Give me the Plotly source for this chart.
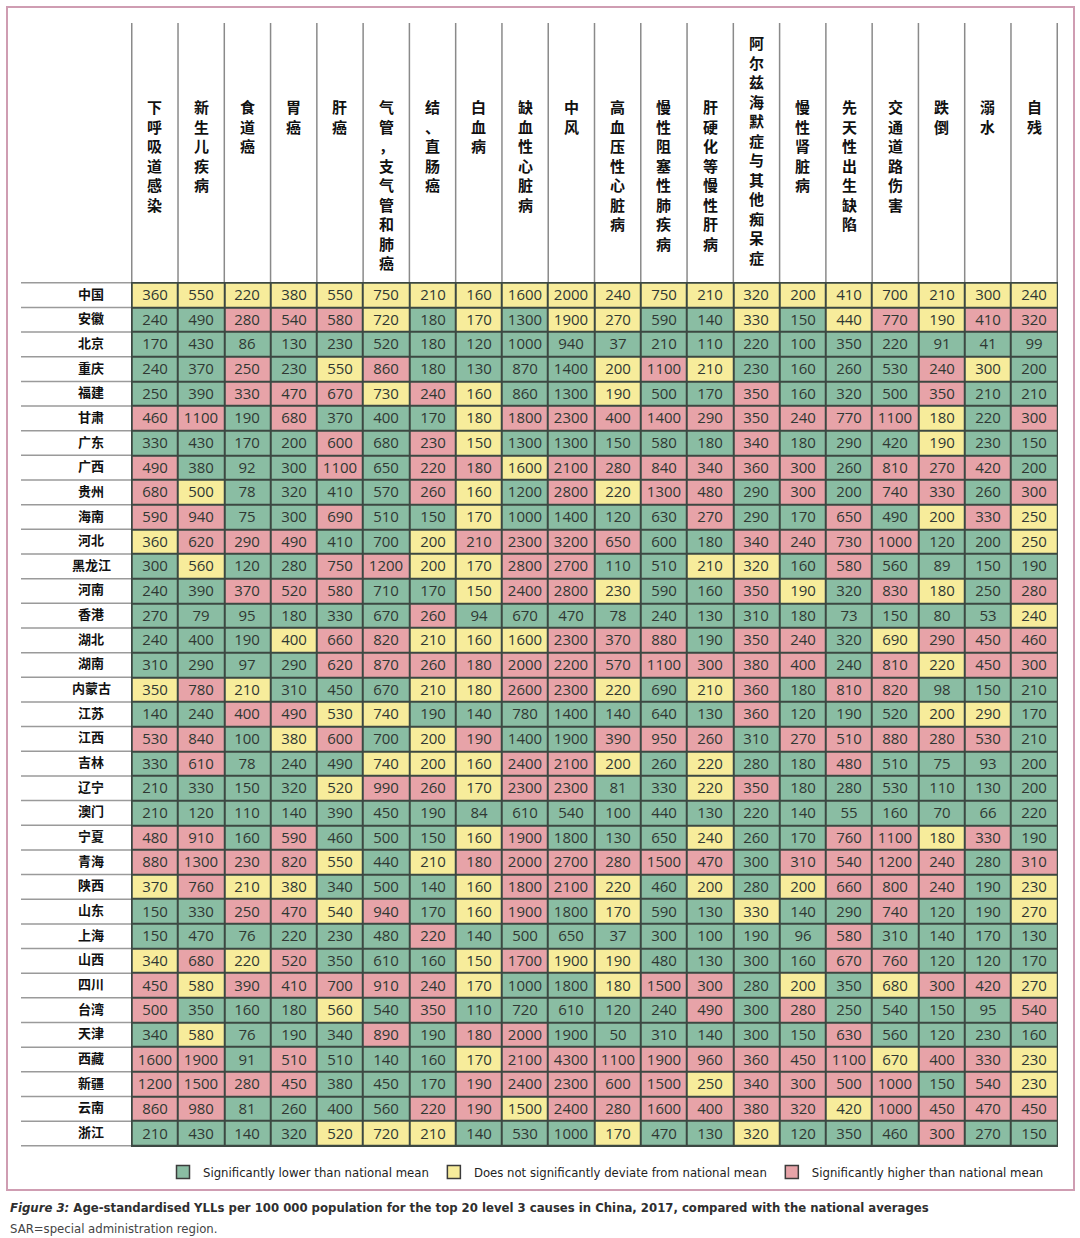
import plotly.graph_objects as go

# 20 causes (column headers)
causes = ["下呼吸道感染", "新生儿疾病", "食道癌", "胃癌", "肝癌", "气管，支气管和肺癌",
          "结、直肠癌", "白血病", "缺血性心脏病", "中风", "高血压性心脏病",
          "慢性阻塞性肺疾病", "肝硬化等慢性肝病", "阿尔兹海默症与其他痴呆症",
          "慢性肾脏病", "先天性出生缺陷", "交通道路伤害", "跌倒", "溺水", "自残"]

regions = ["中国", "安徽", "北京", "重庆", "福建", "甘肃", "广东", "广西", "贵州", "海南",
           "河北", "黑龙江", "河南", "香港", "湖北", "湖南", "内蒙古", "江苏", "江西", "吉林",
           "辽宁", "澳门", "宁夏", "青海", "陕西", "山东", "上海", "山西", "四川", "台湾",
           "天津", "西藏", "新疆", "云南", "浙江"]

# age-standardised YLLs per 100 000, one row per region
yll = [
    [360, 550, 220, 380, 550, 750, 210, 160, 1600, 2000, 240, 750, 210, 320, 200, 410, 700, 210, 300, 240],
    [240, 490, 280, 540, 580, 720, 180, 170, 1300, 1900, 270, 590, 140, 330, 150, 440, 770, 190, 410, 320],
    [170, 430, 86, 130, 230, 520, 180, 120, 1000, 940, 37, 210, 110, 220, 100, 350, 220, 91, 41, 99],
    [240, 370, 250, 230, 550, 860, 180, 130, 870, 1400, 200, 1100, 210, 230, 160, 260, 530, 240, 300, 200],
    [250, 390, 330, 470, 670, 730, 240, 160, 860, 1300, 190, 500, 170, 350, 160, 320, 500, 350, 210, 210],
    [460, 1100, 190, 680, 370, 400, 170, 180, 1800, 2300, 400, 1400, 290, 350, 240, 770, 1100, 180, 220, 300],
    [330, 430, 170, 200, 600, 680, 230, 150, 1300, 1300, 150, 580, 180, 340, 180, 290, 420, 190, 230, 150],
    [490, 380, 92, 300, 1100, 650, 220, 180, 1600, 2100, 280, 840, 340, 360, 300, 260, 810, 270, 420, 200],
    [680, 500, 78, 320, 410, 570, 260, 160, 1200, 2800, 220, 1300, 480, 290, 300, 200, 740, 330, 260, 300],
    [590, 940, 75, 300, 690, 510, 150, 170, 1000, 1400, 120, 630, 270, 290, 170, 650, 490, 200, 330, 250],
    [360, 620, 290, 490, 410, 700, 200, 210, 2300, 3200, 650, 600, 180, 340, 240, 730, 1000, 120, 200, 250],
    [300, 560, 120, 280, 750, 1200, 200, 170, 2800, 2700, 110, 510, 210, 320, 160, 580, 560, 89, 150, 190],
    [240, 390, 370, 520, 580, 710, 170, 150, 2400, 2800, 230, 590, 160, 350, 190, 320, 830, 180, 250, 280],
    [270, 79, 95, 180, 330, 670, 260, 94, 670, 470, 78, 240, 130, 310, 180, 73, 150, 80, 53, 240],
    [240, 400, 190, 400, 660, 820, 210, 160, 1600, 2300, 370, 880, 190, 350, 240, 320, 690, 290, 450, 460],
    [310, 290, 97, 290, 620, 870, 260, 180, 2000, 2200, 570, 1100, 300, 380, 400, 240, 810, 220, 450, 300],
    [350, 780, 210, 310, 450, 670, 210, 180, 2600, 2300, 220, 690, 210, 360, 180, 810, 820, 98, 150, 210],
    [140, 240, 400, 490, 530, 740, 190, 140, 780, 1400, 140, 640, 130, 360, 120, 190, 520, 200, 290, 170],
    [530, 840, 100, 380, 600, 700, 200, 190, 1400, 1900, 390, 950, 260, 310, 270, 510, 880, 280, 530, 210],
    [330, 610, 78, 240, 490, 740, 200, 160, 2400, 2100, 200, 260, 220, 280, 180, 480, 510, 75, 93, 200],
    [210, 330, 150, 320, 520, 990, 260, 170, 2300, 2300, 81, 330, 220, 350, 180, 280, 530, 110, 130, 200],
    [210, 120, 110, 140, 390, 450, 190, 84, 610, 540, 100, 440, 130, 220, 140, 55, 160, 70, 66, 220],
    [480, 910, 160, 590, 460, 500, 150, 160, 1900, 1800, 130, 650, 240, 260, 170, 760, 1100, 180, 330, 190],
    [880, 1300, 230, 820, 550, 440, 210, 180, 2000, 2700, 280, 1500, 470, 300, 310, 540, 1200, 240, 280, 310],
    [370, 760, 210, 380, 340, 500, 140, 160, 1800, 2100, 220, 460, 200, 280, 200, 660, 800, 240, 190, 230],
    [150, 330, 250, 470, 540, 940, 170, 160, 1900, 1800, 170, 590, 130, 330, 140, 290, 740, 120, 190, 270],
    [150, 470, 76, 220, 230, 480, 220, 140, 500, 650, 37, 300, 100, 190, 96, 580, 310, 140, 170, 130],
    [340, 680, 220, 520, 350, 610, 160, 150, 1700, 1900, 190, 480, 130, 300, 160, 670, 760, 120, 120, 170],
    [450, 580, 390, 410, 700, 910, 240, 170, 1000, 1800, 180, 1500, 300, 280, 200, 350, 680, 300, 420, 270],
    [500, 350, 160, 180, 560, 540, 350, 110, 720, 610, 120, 240, 490, 300, 280, 250, 540, 150, 95, 540],
    [340, 580, 76, 190, 340, 890, 190, 180, 2000, 1900, 50, 310, 140, 300, 150, 630, 560, 120, 230, 160],
    [1600, 1900, 91, 510, 510, 140, 160, 170, 2100, 4300, 1100, 1900, 960, 360, 450, 1100, 670, 400, 330, 230],
    [1200, 1500, 280, 450, 380, 450, 170, 190, 2400, 2300, 600, 1500, 250, 340, 300, 500, 1000, 150, 540, 230],
    [860, 980, 81, 260, 400, 560, 220, 190, 1500, 2400, 280, 1600, 400, 380, 320, 420, 1000, 450, 470, 450],
    [210, 430, 140, 320, 520, 720, 210, 140, 530, 1000, 170, 470, 130, 320, 120, 350, 460, 300, 270, 150],
]

# G = significantly lower, Y = no significant deviation, R = significantly higher
sig = [
    "YYYYYYYYYYYYYYYYYYYY",
    "GGRRRYGYGYYGGYGYRYRR",
    "GGGGGGGGGGGGGGGGGGGG",
    "GGRGYRGGGGYRYGGGGRYG",
    "GGRRRYRYGGYGGRGGGRGG",
    "RRGRGGGYRRRRRRRRRYGR",
    "GGGGRGRYGGGGGRGGGYGG",
    "RGGGRGRRYRRRRRRGRRRG",
    "RYGGGGRYGRYRRGRGRRGR",
    "RRGGRGGYGGGGRGGRGYRY",
    "YRRRGGYRRRRGGRRRRGGY",
    "GYGGRRYYRRGGYYGRGGGG",
    "GGRRRGGYRRYGGRYGRYGR",
    "GGGGGGRGGGGGGGGGGGGY",
    "GGGYRRYYYRRRGRRGYRRR",
    "GGGGRRRRRRRRRRRGRYRR",
    "YRYGGGYYRRYGYRGRRGGG",
    "GGRRYYGGGGGGGRGGGYYG",
    "RRGYRGYRGGRRRGRRRRRG",
    "GRGGGYYYRRYGYGGRGGGG",
    "GGGGYRRYRRGGYRGGGGGG",
    "GGGGGGGGGGGGGGGGGGGG",
    "RRGRGGGYRGGGYGGRRYRG",
    "RRRRYGYRRRRRRGRRRRGR",
    "YRYYGGGYRRYGYGYRRRGY",
    "GGRRYRGYRGYGGYGGRGGY",
    "GGGGGGRGGGGGGGGRGGGG",
    "YRYRGGGYRYYGGGGRRGGG",
    "RYRRRRRYGGYRRGYGYRRY",
    "RGGGYGRGGGGGRGRGGGGR",
    "GYGGGRGRRGGGGGGRGGGG",
    "RRGRGGGYRRRRRRRRYRRY",
    "RRRRGGGRRRRRYRRRRGRY",
    "RRGGGGRRYRRRRRRYRRRR",
    "GGGGYYYGGGYGGYGGGRGG",
]

legend_labels = ["Significantly lower than national mean",
                 "Does not significantly deviate from national mean",
                 "Significantly higher than national mean"]

GREEN, YELLOW, PINK = "#8abda3", "#f7ec9b", "#e7a3a8"
LEVEL = {"G": 0, "Y": 1, "R": 2}
NARROW = "DejaVu Sans Condensed, Liberation Sans, sans-serif"

W, H = 1080, 1238
ML, MR, MT, MB = 131, 22, 282, 91


def px(x):
    return (x - ML) / (W - ML - MR)


def py(y):
    return (H - MB - y) / (H - MT - MB)


z = [[LEVEL[c] for c in row] for row in sig]
txt = [[str(v) for v in row] for row in yll]

fig = go.Figure()
fig.add_trace(go.Heatmap(
    x=causes, y=regions, z=z, text=txt, texttemplate="%{text}",
    textfont=dict(family="Open Sans", size=15, color="#2f3833"),
    zmin=0, zmax=2, showscale=False, xgap=2, ygap=2, hoverinfo="skip",
    colorscale=[[0, GREEN], [1 / 3, GREEN], [1 / 3, YELLOW], [2 / 3, YELLOW],
                [2 / 3, PINK], [1, PINK]],
))

# legend entries
for lbl, col in zip(legend_labels, [GREEN, YELLOW, PINK]):
    fig.add_trace(go.Scatter(
        x=[None], y=[None], mode="markers", name=lbl,
        marker=dict(symbol="square", size=13, color=col,
                    line=dict(color="#3c3c3c", width=1.5)),
    ))

shapes = []
# vertical lines in header
for i in range(len(causes) + 1):
    shapes.append(dict(type="line", xref="x", yref="paper", x0=i - 0.5, x1=i - 0.5,
                       y0=1, y1=py(23), line=dict(color="#8a8a8a", width=1.5)))
# row separators beside the labels
for j in range(len(regions) + 1):
    shapes.append(dict(type="line", xref="paper", yref="y", x0=px(21), x1=0,
                       y0=j - 0.5, y1=j - 0.5, line=dict(color="#9a9a9a", width=1.5)))
# outer pink frame
shapes.append(dict(type="rect", xref="paper", yref="paper", x0=px(7), x1=px(1074),
                   y0=py(1190), y1=py(7), line=dict(color="#cf9db2", width=2)))

annotations = []
for c in causes:
    long = len(c) > 9
    annotations.append(dict(
        x=c, xref="x", yref="paper", y=py(150) if long else py(94),
        yanchor="middle" if long else "top", xanchor="center",
        text="<br>".join(c), showarrow=False,
        font=dict(family="Noto Sans CJK SC", size=15, color="#111", weight="bold"),
    ))
for r in regions:
    annotations.append(dict(
        x=px(91), xref="paper", y=r, yref="y", text=r, showarrow=False,
        xanchor="center", yshift=2,
        font=dict(family="Noto Sans CJK SC", size=13, color="#111", weight="bold"),
    ))
annotations.append(dict(
    x=px(8), y=py(1207), xref="paper", yref="paper", xanchor="left", yanchor="middle",
    showarrow=False,
    text="<b><i>Figure 3:</i> Age-standardised YLLs per 100 000 population for the top 20 "
         "level 3 causes in China, 2017, compared with the national averages</b>",
    font=dict(family=NARROW, size=13, color="#2f2f2f"),
))
annotations.append(dict(
    x=px(8), y=py(1228), xref="paper", yref="paper", xanchor="left", yanchor="middle",
    showarrow=False, text="SAR=special administration region.",
    font=dict(family=NARROW, size=13, color="#444"),
))

fig.update_layout(
    width=W, height=H,
    margin=dict(l=ML, r=MR, t=MT, b=MB),
    paper_bgcolor="white", plot_bgcolor="#3c4842",
    xaxis=dict(type="category", showticklabels=False, showgrid=False, zeroline=False,
               ticks=""),
    yaxis=dict(type="category", autorange="reversed", showticklabels=False,
               showgrid=False, zeroline=False, ticks=""),
    showlegend=True,
    legend=dict(orientation="h", x=px(163), y=py(1157), xanchor="left", yanchor="top",
                font=dict(family=NARROW, size=13, color="#222"),
                bgcolor="rgba(0,0,0,0)"),
    shapes=shapes, annotations=annotations,
)

# remove the default page margin so the figure sits at the window's top-left corner
fig.write_html("out.html", config={"displayModeBar": False},
               post_script="document.body.style.margin='0';")
